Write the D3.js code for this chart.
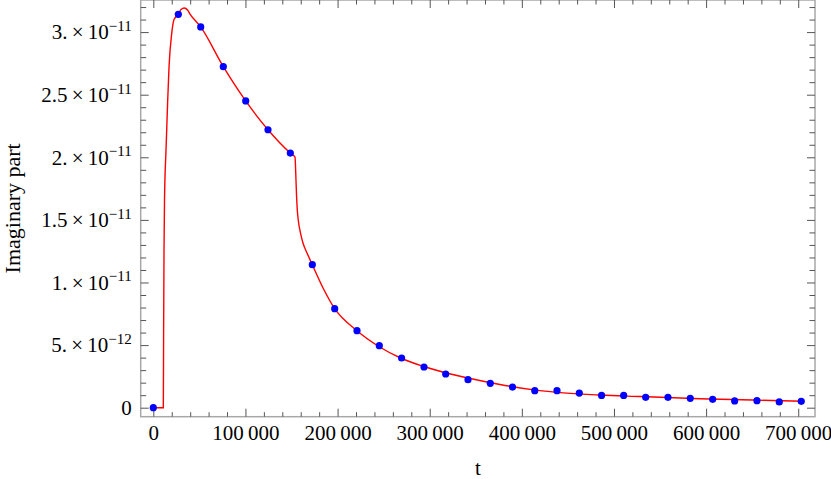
<!DOCTYPE html>
<html>
<head>
<meta charset="utf-8">
<script src="https://cdn.jsdelivr.net/npm/d3@7"></script>
<style>
  body { margin: 0; background: #fff; }
  text { font-family: "Liberation Serif", "Times New Roman", serif; fill: #000; }
</style>
</head>
<body>
<div id="chart"></div>
<script>
const width = 831;
const height = 479;
const frame = {left: 140.7, right: 815, top: 0, bottom: 416.7};
const fontSize = 21;

// sampled values (blue dots), t and imaginary part in units of 1e-12
const pointT = [0, 27130, 51440, 75970, 100280, 124480, 148690, 172560, 196870, 221080,
                245280, 269480, 293790, 317340, 341550, 365750, 389840, 414040, 438140, 462340,
                486540, 510530, 534410, 558610, 582810, 607120, 630990, 655200, 679400, 703280];
const pointV = [0, 31.42, 30.41, 27.24, 24.50, 22.20, 20.34, 11.42, 7.91, 6.15,
                4.95, 3.97, 3.25, 2.69, 2.24, 1.95, 1.65, 1.36, 1.36, 1.17,
                0.98, 0.98, 0.83, 0.83, 0.75, 0.67, 0.54, 0.56, 0.46, 0.51];

// the red curve
const curveT = [0, 10850, 11180, 11610, 12150, 13780, 15630, 17040, 19970, 22470,
                27130, 30060, 33640, 37120, 39830, 51440, 75970, 100280, 124480, 148690,
                153790, 154660, 155420, 156280, 157590, 159760, 162800, 166810, 172560, 184500,
                196870, 221080, 245280, 269480, 293790, 311150, 341550, 376270, 419700, 484810,
                528220, 593340, 650000, 705000];
const curveV = [0, 0, 6.2, 12.6, 16.6, 20.6, 24.6, 27.2, 29.9, 31.0,
                31.42, 31.8, 31.92, 31.76, 31.44, 30.41, 27.24, 24.50, 22.20, 20.34,
                20.02, 18.59, 16.99, 15.79, 14.83, 13.95, 13.07, 12.36, 11.42, 9.52,
                7.91, 6.15, 4.87, 3.93, 3.29, 2.91, 2.37, 1.85, 1.36, 1.01,
                0.89, 0.72, 0.61, 0.51];

// ticks
const xTicks = [0, 100000, 200000, 300000, 400000, 500000, 600000, 700000];
const xTickLabels = ["0", "100\u2009000", "200\u2009000", "300\u2009000", "400\u2009000",
                     "500\u2009000", "600\u2009000", "700\u2009000"];
const yTicks = [0, 5e-12, 1e-11, 1.5e-11, 2e-11, 2.5e-11, 3e-11];
const yTickMant = ["0", "5.", "1.", "1.5", "2.", "2.5", "3."];
const yTickExp = ["", "\u221212", "\u221211", "\u221211", "\u221211", "\u221211", "\u221211"];

const xMinor = d3.range(0, 700001, 20000).filter(d => d % 100000 !== 0);
const yMinor = d3.range(0, 33).map(d => d * 1e-12).filter((d, i) => i % 5 !== 0);

const svg = d3.select("#chart")
  .append("svg")
  .attr("width", width)
  .attr("height", height);

const x = d3.scaleLinear()
  .domain([-13700, 718200])
  .range([frame.left, frame.right]);

const y = d3.scaleLinear()
  .domain([-7.19e-13, 3.2563e-11])
  .range([frame.bottom, frame.top]);

// frame
svg.append("rect")
  .attr("x", frame.left)
  .attr("y", frame.top)
  .attr("width", frame.right - frame.left)
  .attr("height", frame.bottom - frame.top)
  .attr("fill", "none")
  .attr("stroke", "#a8a8a8")
  .attr("stroke-width", 1.5);

function styleAxis(g) {
  g.select(".domain").remove();
  g.selectAll(".tick line").attr("stroke", "#555");
}

// bottom
svg.append("g")
  .attr("transform", `translate(0,${frame.bottom})`)
  .call(d3.axisBottom(x).tickValues(xMinor).tickSize(-4.5).tickFormat(""))
  .call(styleAxis);
svg.append("g")
  .attr("transform", `translate(0,${frame.bottom})`)
  .call(d3.axisBottom(x).tickValues(xTicks).tickSize(-8).tickPadding(8.5)
        .tickFormat((d, i) => xTickLabels[i]))
  .call(styleAxis)
  .selectAll("text")
  .style("font-size", fontSize + "px")
  .style("font-family", "Liberation Serif");

// top
svg.append("g")
  .attr("transform", `translate(0,${frame.top})`)
  .call(d3.axisTop(x).tickValues(xMinor).tickSize(-4.5).tickFormat(""))
  .call(styleAxis);
svg.append("g")
  .attr("transform", `translate(0,${frame.top})`)
  .call(d3.axisTop(x).tickValues(xTicks).tickSize(-8).tickFormat(""))
  .call(styleAxis);

// left
svg.append("g")
  .attr("transform", `translate(${frame.left},0)`)
  .call(d3.axisLeft(y).tickValues(yMinor).tickSize(-5.5).tickFormat(""))
  .call(styleAxis);
const yAxis = svg.append("g")
  .attr("transform", `translate(${frame.left},0)`)
  .call(d3.axisLeft(y).tickValues(yTicks).tickSize(-8).tickPadding(9).tickFormat(""))
  .call(styleAxis);

yAxis.selectAll(".tick text").each(function(d, i) {
  const t = d3.select(this)
    .style("font-size", fontSize + "px")
    .style("font-family", "Liberation Serif");
  if (yTickExp[i] === "") {
    t.text(yTickMant[i]);
    return;
  }
  t.append("tspan").text(yTickMant[i] + "\u2009\u00d7\u200910");
  t.append("tspan")
    .attr("dy", "-0.55em")
    .style("font-size", "15px")
    .text(yTickExp[i]);
});

// right
svg.append("g")
  .attr("transform", `translate(${frame.right},0)`)
  .call(d3.axisRight(y).tickValues(yMinor).tickSize(-5.5).tickFormat(""))
  .call(styleAxis);
svg.append("g")
  .attr("transform", `translate(${frame.right},0)`)
  .call(d3.axisRight(y).tickValues(yTicks).tickSize(-8).tickFormat(""))
  .call(styleAxis);

// axis labels
svg.append("text")
  .attr("x", (frame.left + frame.right) / 2)
  .attr("y", 474.5)
  .attr("text-anchor", "middle")
  .style("font-size", fontSize + "px")
  .text("t");

svg.append("text")
  .attr("transform", `translate(20,${(frame.top + frame.bottom) / 2}) rotate(-90)`)
  .attr("text-anchor", "middle")
  .style("font-size", "22px")
  .text("Imaginary part");

// red curve
const curveData = curveT.map((t, i) => ({t: t, v: curveV[i] * 1e-12}));
const line = d3.line()
  .x(d => x(d.t))
  .y(d => y(d.v))
  .curve(d3.curveMonotoneX);

svg.append("path")
  .datum(curveData)
  .attr("d", line)
  .attr("fill", "none")
  .attr("stroke", "#ff0000")
  .attr("stroke-width", 1.4);

// blue dots
const pointData = pointT.map((t, i) => ({t: t, v: pointV[i] * 1e-12}));
svg.selectAll(".dot")
  .data(pointData)
  .enter()
  .append("circle")
    .attr("class", "dot")
    .attr("cx", d => x(d.t))
    .attr("cy", d => y(d.v))
    .attr("r", 3.6)
    .attr("fill", "#0000ff");
</script>
</body>
</html>
